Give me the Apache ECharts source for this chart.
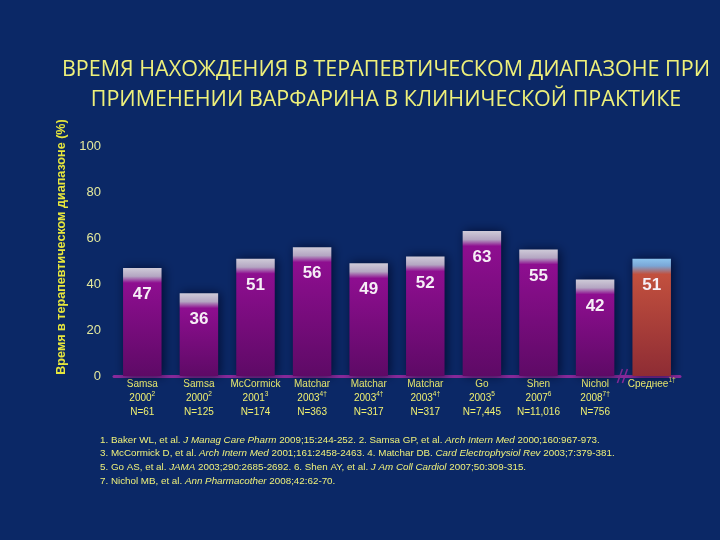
<!DOCTYPE html>
<html>
<head>
<meta charset="utf-8">
<script src="https://cdn.jsdelivr.net/npm/echarts@6/dist/echarts.min.js"></script>
<style>
  html, body { margin: 0; padding: 0; background: #0b2866; }
  #chart { width: 720px; height: 540px; }
</style>
</head>
<body>
<div id="chart"></div>
<script>
// исследования и значения TTR (%)
const studies = ['Samsa', 'Samsa', 'McCormick', 'Matchar', 'Matchar', 'Matchar', 'Go', 'Shen', 'Nichol', 'Среднее']
const years = ['2000', '2000', '2001', '2003', '2003', '2003', '2003', '2007', '2008', '']
const refs = ['2', '2', '3', '4†', '4†', '4†', '5', '6', '7†', '1†']
const sizes = ['N=61', 'N=125', 'N=174', 'N=363', 'N=317', 'N=317', 'N=7,445', 'N=11,016', 'N=756', '']
const ttr = [47, 36, 51, 56, 49, 52, 63, 55, 42, 51]
const yTicks = [0, 20, 40, 60, 80, 100]

const footnotes = [
  [['1. Baker WL, et al. ', 'n'], ['J Manag Care Pharm', 'i'], [' 2009;15:244-252. 2. Samsa GP, et al. ', 'n'], ['Arch Intern Med', 'i'], [' 2000;160:967-973.', 'n']],
  [['3. McCormick D, et al. ', 'n'], ['Arch Intern Med', 'i'], [' 2001;161:2458-2463. 4. Matchar DB. ', 'n'], ['Card Electrophysiol Rev', 'i'], [' 2003;7:379-381.', 'n']],
  [['5. Go AS, et al. ', 'n'], ['JAMA', 'i'], [' 2003;290:2685-2692. 6. Shen AY, et al. ', 'n'], ['J Am Coll Cardiol', 'i'], [' 2007;50:309-315.', 'n']],
  [['7. Nichol MB, et al. ', 'n'], ['Ann Pharmacother', 'i'], [' 2008;42:62-70.', 'n']]
]

const chart = echarts.init(document.getElementById('chart'))

const gridTop = 146
const gridBottom = 164
const pxPerUnit = (540 - gridTop - gridBottom) / 100
const capPx = 12
const font = 'Liberation Sans, Arial'
const yellow = '#eef07a'

function barColor(v, isMean) {
  const f = Math.min(capPx / (v * pxPerUnit), 0.5)
  if (isMean) {
    return new echarts.graphic.LinearGradient(0, 0, 0, 1, [
      { offset: 0, color: '#8cc4ee' },
      { offset: f * 0.6, color: '#7aa6d6' },
      { offset: f * 1.3, color: '#c2503e' },
      { offset: 1, color: '#8e2c34' }
    ])
  }
  return new echarts.graphic.LinearGradient(0, 0, 0, 1, [
    { offset: 0, color: '#cfcbd8' },
    { offset: f * 0.7, color: '#b4a6c2' },
    { offset: f * 1.25, color: '#8e0e90' },
    { offset: 1, color: '#5e0a66' }
  ])
}

const xLabels = studies.map((s, i) => {
  if (!years[i]) return '{n|' + s + '}{s|' + refs[i] + '}'
  return '{n|' + s + '}\n{n|' + years[i] + '}{s|' + refs[i] + '}\n{n|' + sizes[i] + '}'
})

const footGraphics = footnotes.map((line, i) => ({
  type: 'text',
  left: 100,
  top: 435 + i * 13.7,
  style: {
    text: line.map(p => '{' + p[1] + '|' + p[0] + '}').join(''),
    rich: {
      n: { fill: yellow, fontSize: 9.8, fontFamily: font },
      i: { fill: yellow, fontSize: 9.8, fontStyle: 'italic', fontFamily: font }
    }
  }
}))

const graphics = [{
  type: 'text',
  x: 62,
  y: 247,
  rotation: Math.PI / 2,
  style: {
    text: 'Время в терапевтическом диапазоне (%)',
    fill: '#e6e63c',
    fontSize: 12.6,
    fontWeight: 'bold',
    fontFamily: font,
    textAlign: 'center',
    textVerticalAlign: 'middle'
  }
}].concat(footGraphics)

const option = {
  backgroundColor: '#0b2866',
  animation: false,
  title: {
    text: 'ВРЕМЯ НАХОЖДЕНИЯ В ТЕРАПЕВТИЧЕСКОМ ДИАПАЗОНЕ ПРИ\nПРИМЕНЕНИИ ВАРФАРИНА В КЛИНИЧЕСКОЙ ПРАКТИКЕ',
    left: 381,
    top: 50,
    textAlign: 'center',
    textStyle: {
      color: yellow,
      fontSize: 21.5,
      fontWeight: 'normal',
      fontFamily: 'Open Sans',
      lineHeight: 30
    }
  },
  grid: { left: 114, right: 40, top: gridTop, bottom: gridBottom },
  xAxis: {
    type: 'category',
    data: xLabels,
    axisLine: { lineStyle: { color: '#8a2a9c', width: 3 } },
    axisTick: { show: false },
    axisLabel: {
      interval: 0,
      margin: 1,
      rich: {
        n: { color: '#f0f070', fontSize: 10, lineHeight: 14, fontFamily: font },
        s: { color: '#f0f070', fontSize: 6.5, lineHeight: 14, verticalAlign: 'top', padding: [0, 0, 4, 0], fontFamily: font }
      }
    }
  },
  yAxis: {
    type: 'value',
    min: yTicks[0],
    max: yTicks[yTicks.length - 1],
    interval: yTicks[1] - yTicks[0],
    axisLine: { show: false },
    axisTick: { show: false },
    splitLine: { show: false },
    axisLabel: { color: '#e4e89c', fontSize: 13, margin: 13, fontFamily: font }
  },
  series: [{
    type: 'bar',
    barWidth: '68%',
    data: ttr.map((v, i) => ({
      value: v,
      itemStyle: {
        color: barColor(v, i === ttr.length - 1),
        shadowColor: 'rgba(0, 6, 36, 0.8)',
        shadowBlur: 10,
        shadowOffsetX: 2
      }
    })),
    label: {
      show: true,
      position: 'insideTop',
      distance: 18,
      color: '#f6eef6',
      fontSize: 17,
      fontWeight: 'bold',
      fontFamily: font
    }
  }],
  graphic: graphics
}

chart.setOption(option)

// знак разрыва оси между Nichol и Среднее
const p1 = chart.convertToPixel({ xAxisIndex: 0 }, xLabels[8])
const p2 = chart.convertToPixel({ xAxisIndex: 0 }, xLabels[9])
const yAxisPx = chart.convertToPixel({ yAxisIndex: 0 }, 0)
const bx = (p1 + p2) / 2
chart.setOption({
  graphic: graphics.concat([
    { type: 'line', shape: { x1: bx - 6, y1: yAxisPx + 7, x2: bx - 1, y2: yAxisPx - 7 }, style: { stroke: '#8a2a9c', lineWidth: 1.5 } },
    { type: 'line', shape: { x1: bx - 1, y1: yAxisPx + 7, x2: bx + 4, y2: yAxisPx - 7 }, style: { stroke: '#8a2a9c', lineWidth: 1.5 } }
  ])
})
</script>
</body>
</html>
